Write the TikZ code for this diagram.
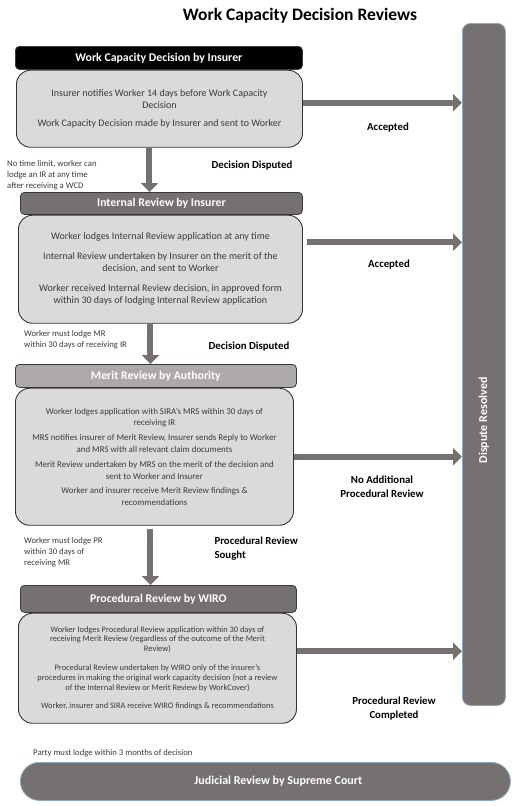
\documentclass[tikz,border=0pt]{standalone}
\usepackage{fontspec}
\setmainfont{Carlito}
\usepackage{tikz}
\usetikzlibrary{positioning}
\usetikzlibrary{arrows.meta,shapes}

\definecolor{stepgray}{HTML}{767171}
\definecolor{bodygray}{HTML}{DADADA}
\definecolor{meritgray}{HTML}{ADA9A9}
\definecolor{edgeblue}{HTML}{8FA8C0}
\definecolor{textgray}{HTML}{3A3A3A}

\tikzset{
  header/.style={draw=textgray,line width=0.8pt,fill=stepgray,rounded corners=4pt,
    text=white,font=\fontsize{11.8}{13}\selectfont\bfseries,inner sep=0pt},
  body/.style={draw=black!80,line width=0.9pt,fill=bodygray,rounded corners=14pt,
    text=textgray,align=center,inner sep=0pt},
  flow/.style={draw=stepgray,line width=6pt,-{Triangle[width=17pt,length=9pt]}},
  outcome/.style={font=\fontsize{10.8}{14}\selectfont\bfseries,align=center},
  note/.style={font=\fontsize{8.7}{11}\selectfont,text=textgray,align=left,inner sep=0pt},
}

\begin{document}
\begin{tikzpicture}[x=1pt,y=-1pt]
	\useasboundingbox (0,0) rectangle (517,806);
	\node[font=\fontsize{17.5}{20}\selectfont\bfseries] (title) at (300,16) {Work Capacity Decision Reviews};

	% dispute resolved column
	\node[draw=edgeblue,line width=0.8pt,fill=stepgray,rounded corners=8pt,minimum width=43pt,
	  minimum height=682pt,anchor=north west] (dr) at (462,23) {};
	\node[rotate=90,text=white,font=\fontsize{12}{13}\selectfont\bfseries] (drt) at ([yshift=-56pt]dr.center) {Dispute Resolved};

	% work capacity decision
	\node[header,fill=black,minimum width=287pt,minimum height=23pt,anchor=north west] (wcdh) at (15,46) {Work Capacity Decision by Insurer};
	\node[body,minimum width=286pt,minimum height=77pt,below right=0pt and 1pt of wcdh.south west,
	  font=\fontsize{10}{12}\selectfont] (wcdb)
	  {Insurer notifies Worker 14 days before Work Capacity\\Decision\\[6pt]Work Capacity Decision made by Insurer and sent to Worker};

	% internal review
	\node[header,minimum width=282pt,minimum height=22pt,anchor=north west] (irh) at (20,192) {Internal Review by Insurer};
	\node[body,minimum width=284pt,minimum height=108pt,below right=0pt and -2pt of irh.south west,
	  font=\fontsize{10}{12}\selectfont] (irb)
	  {Worker lodges Internal Review application at any time\\[8pt]Internal Review undertaken by Insurer on the merit of the\\decision, and sent to Worker\\[8pt]Worker received Internal Review decision, in approved form\\within 30 days of lodging Internal Review application};

	% merit review
	\node[header,fill=meritgray,minimum width=281pt,minimum height=23pt,anchor=north west] (mrh) at (15,364) {Merit Review by Authority};
	\node[body,minimum width=278pt,minimum height=137pt,below right=0pt and 0pt of mrh.south west,
	  font=\fontsize{8.9}{11.8}\selectfont] (mrb)
	  {Worker lodges application with SIRA's MRS within 30 days of\\receiving IR\\[3pt]MRS notifies insurer of Merit Review, Insurer sends Reply to Worker\\and MRS with all relevant claim documents\\[3pt]Merit Review undertaken by MRS on the merit of the decision and\\sent to Worker and Insurer\\[3pt]Worker and insurer receive Merit Review findings \&\\recommendations};

	% procedural review
	\node[header,minimum width=276pt,minimum height=27pt,anchor=north west] (prh) at (20,585) {Procedural Review by WIRO};
	\node[body,minimum width=278pt,minimum height=110pt,below right=0pt and -2pt of prh.south west,
	  font=\fontsize{8.4}{9.8}\selectfont] (prb)
	  {Worker lodges Procedural Review application within 30 days of\\receiving Merit Review (regardless of the outcome of the Merit\\Review)\\[9pt]Procedural Review undertaken by WIRO only of the insurer's\\procedures in making the original work capacity decision (not a review\\of the Internal Review or Merit Review by WorkCover)\\[9pt]Worker, insurer and SIRA receive WIRO findings \& recommendations};

	% judicial review
	\node[draw=edgeblue,line width=0.8pt,fill=stepgray,rounded corners=19pt,minimum width=490pt,
	  minimum height=38pt,anchor=north west,text=white,font=\fontsize{12}{13}\selectfont\bfseries] (jr) at (20,762)
	  {\hspace*{26pt}Judicial Review by Supreme Court};

	% flows to dispute resolved
	\draw[flow] ([yshift=6pt]wcdb.east) -- ([yshift=6pt]wcdb.east -| dr.west);
	\draw[flow] ([xshift=4pt,yshift=27pt]irb.east) -- ([yshift=27pt]irb.east -| dr.west);
	\draw[flow] (mrb.east) -- (mrb.east -| dr.west);
	\draw[flow] ([yshift=17pt]prb.east) -- ([yshift=17pt]prb.east -| dr.west);

	% flows down
	\draw[flow] ([xshift=-10pt]wcdb.south) -- ([xshift=-10pt]wcdb.south |- irh.north);
	\draw[flow] ([xshift=-10pt]irb.south) -- ([xshift=-10pt]irb.south |- mrh.north);
	\draw[flow] ([xshift=-4pt,yshift=-3pt]mrb.south) -- ([xshift=-4pt]mrb.south |- prh.north);

	% outcomes
	\node[outcome] (acc1) at (388,128) {Accepted};
	\node[outcome] (dis1) at (252,166) {Decision Disputed};
	\node[outcome] (acc2) at (389,265) {Accepted};
	\node[outcome] (dis2) at (249,347) {Decision Disputed};
	\node[outcome] (noadd) at (382,487) {No Additional\\Procedural Review};
	\node[outcome,align=left,anchor=west] (sought) at (211,549) {Procedural Review\\Sought};
	\node[outcome] (done) at (394,709) {Procedural Review\\Completed};

	% time limits
	\node[note,anchor=west] (lim1) at (7,175) {No time limit, worker can\\lodge an IR at any time\\after receiving a WCD};
	\node[note,anchor=west] (lim2) at (24,340) {Worker must lodge MR\\within 30 days of receiving IR};
	\node[note,anchor=west] (lim3) at (24,552) {Worker must lodge PR\\within 30 days of\\receiving MR};
	\node[note,anchor=west] (lim4) at (33,753) {Party must lodge within 3 months of decision};
\end{tikzpicture}
\end{document}
